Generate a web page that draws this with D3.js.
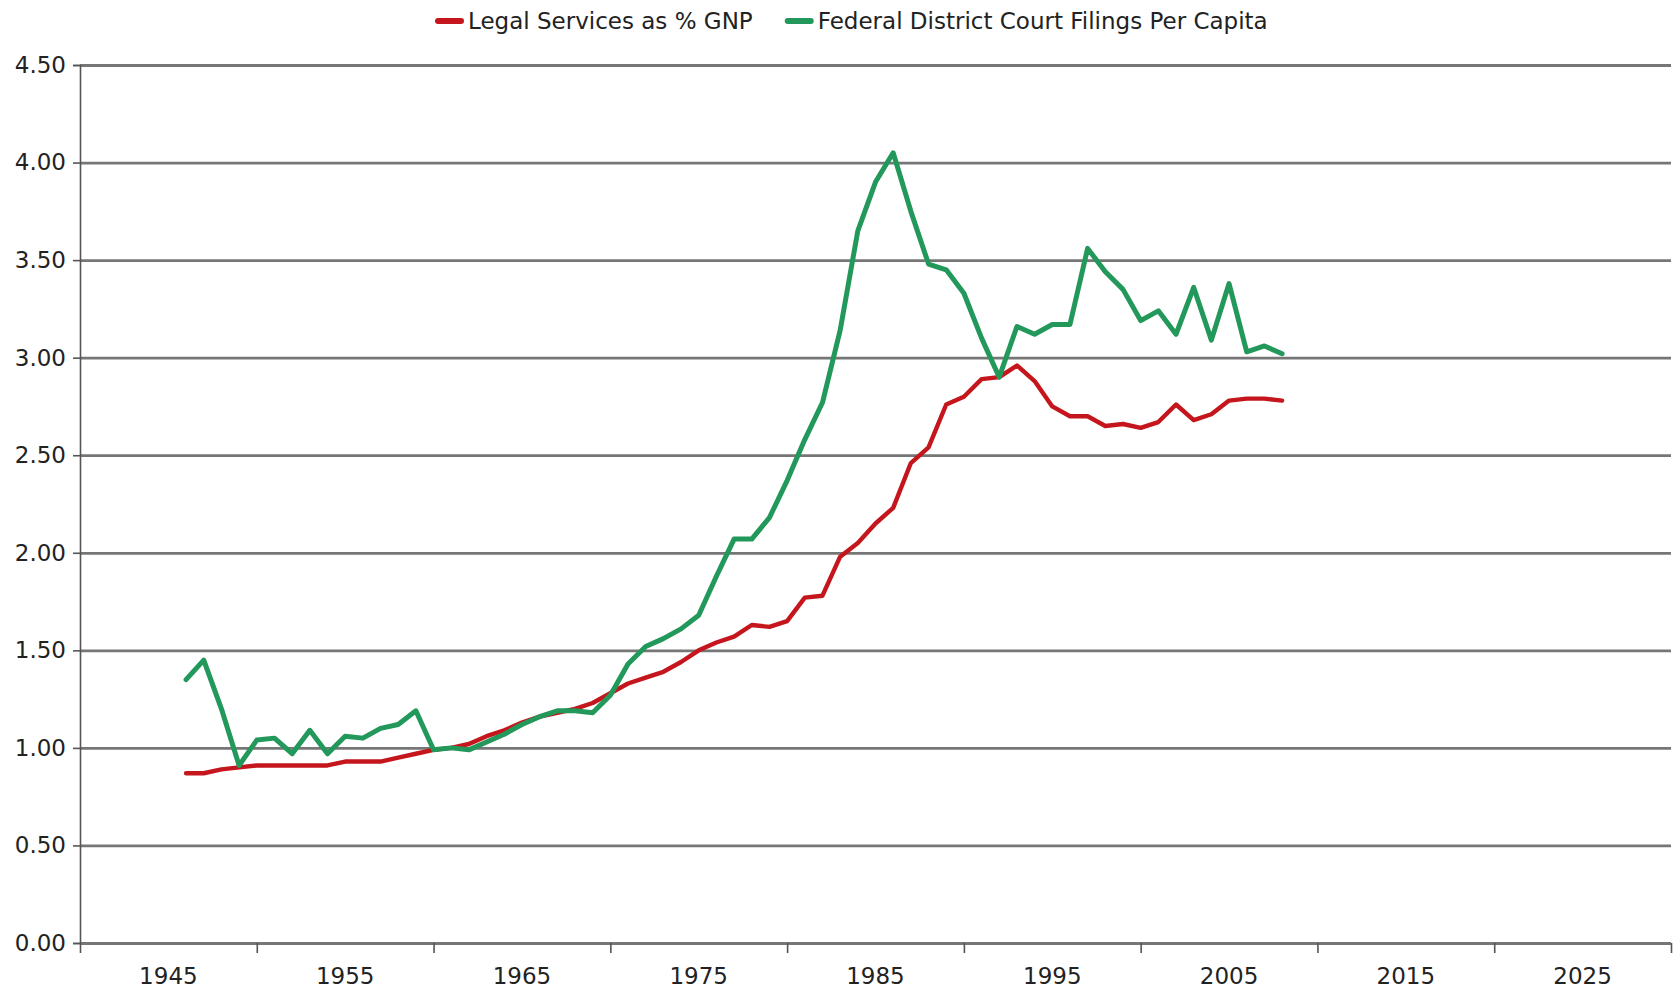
<!DOCTYPE html>
<html>
<head>
<meta charset="utf-8">
<script src="https://cdn.jsdelivr.net/npm/d3@7"></script>
<style>
  body { margin: 0; background: #fff; }
  text { font-family: "DejaVu Sans", sans-serif; fill: #222; }
</style>
</head>
<body>
<div id="chart"></div>
<script>
// data, one value per year
var years = [1946, 1947, 1948, 1949, 1950, 1951, 1952, 1953, 1954, 1955,
  1956, 1957, 1958, 1959, 1960, 1961, 1962, 1963, 1964, 1965,
  1966, 1967, 1968, 1969, 1970, 1971, 1972, 1973, 1974, 1975,
  1976, 1977, 1978, 1979, 1980, 1981, 1982, 1983, 1984, 1985,
  1986, 1987, 1988, 1989, 1990, 1991, 1992, 1993, 1994, 1995,
  1996, 1997, 1998, 1999, 2000, 2001, 2002, 2003, 2004, 2005,
  2006, 2007, 2008]

var legalServices = [0.87, 0.87, 0.89, 0.90, 0.91, 0.91, 0.91, 0.91, 0.91, 0.93,
  0.93, 0.93, 0.95, 0.97, 0.99, 1.00, 1.02, 1.06, 1.09, 1.13,
  1.16, 1.18, 1.20, 1.23, 1.28, 1.33, 1.36, 1.39, 1.44, 1.50,
  1.54, 1.57, 1.63, 1.62, 1.65, 1.77, 1.78, 1.98, 2.05, 2.15,
  2.23, 2.46, 2.54, 2.76, 2.80, 2.89, 2.90, 2.96, 2.88, 2.75,
  2.70, 2.70, 2.65, 2.66, 2.64, 2.67, 2.76, 2.68, 2.71, 2.78,
  2.79, 2.79, 2.78]

var courtFilings = [1.35, 1.45, 1.20, 0.91, 1.04, 1.05, 0.97, 1.09, 0.97, 1.06,
  1.05, 1.10, 1.12, 1.19, 0.99, 1.00, 0.99, 1.03, 1.07, 1.12,
  1.16, 1.19, 1.19, 1.18, 1.27, 1.43, 1.52, 1.56, 1.61, 1.68,
  1.88, 2.07, 2.07, 2.18, 2.37, 2.58, 2.77, 3.14, 3.65, 3.90,
  4.05, 3.75, 3.48, 3.45, 3.33, 3.10, 2.90, 3.16, 3.12, 3.17,
  3.17, 3.56, 3.44, 3.35, 3.19, 3.24, 3.12, 3.36, 3.09, 3.38,
  3.03, 3.06, 3.02]

var seriesNames = ["Legal Services as % GNP", "Federal District Court Filings Per Capita"]
var seriesColors = ["#c4161c", "#22985a"]

var yTicks = [0, 0.5, 1, 1.5, 2, 2.5, 3, 3.5, 4, 4.5]
var xTicks = [1940, 1950, 1960, 1970, 1980, 1990, 2000, 2010, 2020, 2030]
var xLabels = ["1945", "1955", "1965", "1975", "1985", "1995", "2005", "2015", "2025"]

// build chart
var svgWidth = 1680
var svgHeight = 990

var margin = {
  top: 65,
  right: 9,
  bottom: 47,
  left: 80
}

var width = svgWidth - margin.left - margin.right
var height = svgHeight - margin.top - margin.bottom

var svg = d3.select("#chart")
  .append("svg")
  .attr("width", svgWidth)
  .attr("height", svgHeight)

var chartGroup = svg.append("g")
  .attr("transform", `translate(${margin.left}, ${margin.top})`)

var xScale = d3.scaleLinear()
  .domain([1940, 2030])
  .range([0, width])

var yScale = d3.scaleLinear()
  .domain([0, 4.5])
  .range([height, 0])

// horizontal gridlines
chartGroup.append("g")
  .attr("class", "grid")
  .call(d3.axisLeft(yScale).tickValues(yTicks).tickSize(-width).tickFormat(""))
  .call(g => g.select(".domain").remove())
  .call(g => g.selectAll("line").attr("stroke", "#767676").attr("stroke-width", 2.8))

// y axis
chartGroup.append("g")
  .call(d3.axisLeft(yScale).tickValues(yTicks).tickSize(7).tickPadding(7).tickFormat(d3.format(".2f")))
  .call(g => g.select(".domain").attr("stroke", "#555").attr("stroke-width", 1.6))
  .call(g => g.selectAll("line").attr("stroke", "#555").attr("stroke-width", 1.6))
  .call(g => g.selectAll("text").style("font-size", "23px").attr("fill", "#222"))

// x axis: tick marks on decade boundaries, labels in between
chartGroup.append("g")
  .attr("transform", `translate(0, ${height})`)
  .call(d3.axisBottom(xScale).tickValues(xTicks).tickSize(10).tickFormat(""))
  .call(g => g.select(".domain").remove())
  .call(g => g.selectAll("line").attr("stroke", "#555").attr("stroke-width", 1.6))

chartGroup.append("g")
  .selectAll("text")
  .data(xLabels)
  .enter()
  .append("text")
  .attr("x", d => xScale(+d))
  .attr("y", height + 41)
  .attr("text-anchor", "middle")
  .style("font-size", "23px")
  .text(d => d)

// lines
var line = d3.line()
  .x(d => xScale(d.year))
  .y(d => yScale(d.value))
  .curve(d3.curveLinear)

var allSeries = [legalServices, courtFilings].map(function(values, i) {
  return {
    name: seriesNames[i],
    color: seriesColors[i],
    points: years.map((yr, j) => ({ year: yr, value: values[j] }))
  }
})

chartGroup.selectAll(".series")
  .data(allSeries)
  .enter()
  .append("path")
  .attr("class", "series")
  .attr("fill", "none")
  .attr("stroke", d => d.color)
  .attr("stroke-width", (d, i) => i == 0 ? 4.4 : 5)
  .attr("stroke-linejoin", "round")
  .attr("stroke-linecap", "round")
  .attr("d", d => line(d.points))

// legend
var legend = svg.append("g")
  .attr("transform", "translate(436, 21)")

var offset = 0
allSeries.forEach(function(s) {
  var item = legend.append("g").attr("transform", `translate(${offset}, 0)`)
  item.append("line")
    .attr("x1", 2).attr("x2", 25)
    .attr("y1", 0).attr("y2", 0)
    .attr("stroke", s.color)
    .attr("stroke-width", 6)
    .attr("stroke-linecap", "round")
  var label = item.append("text")
    .attr("x", 32)
    .attr("y", 0)
    .attr("dy", "0.35em")
    .style("font-size", "23px")
    .text(s.name)
  offset += 32 + label.node().getComputedTextLength() + 33
})
</script>
</body>
</html>
